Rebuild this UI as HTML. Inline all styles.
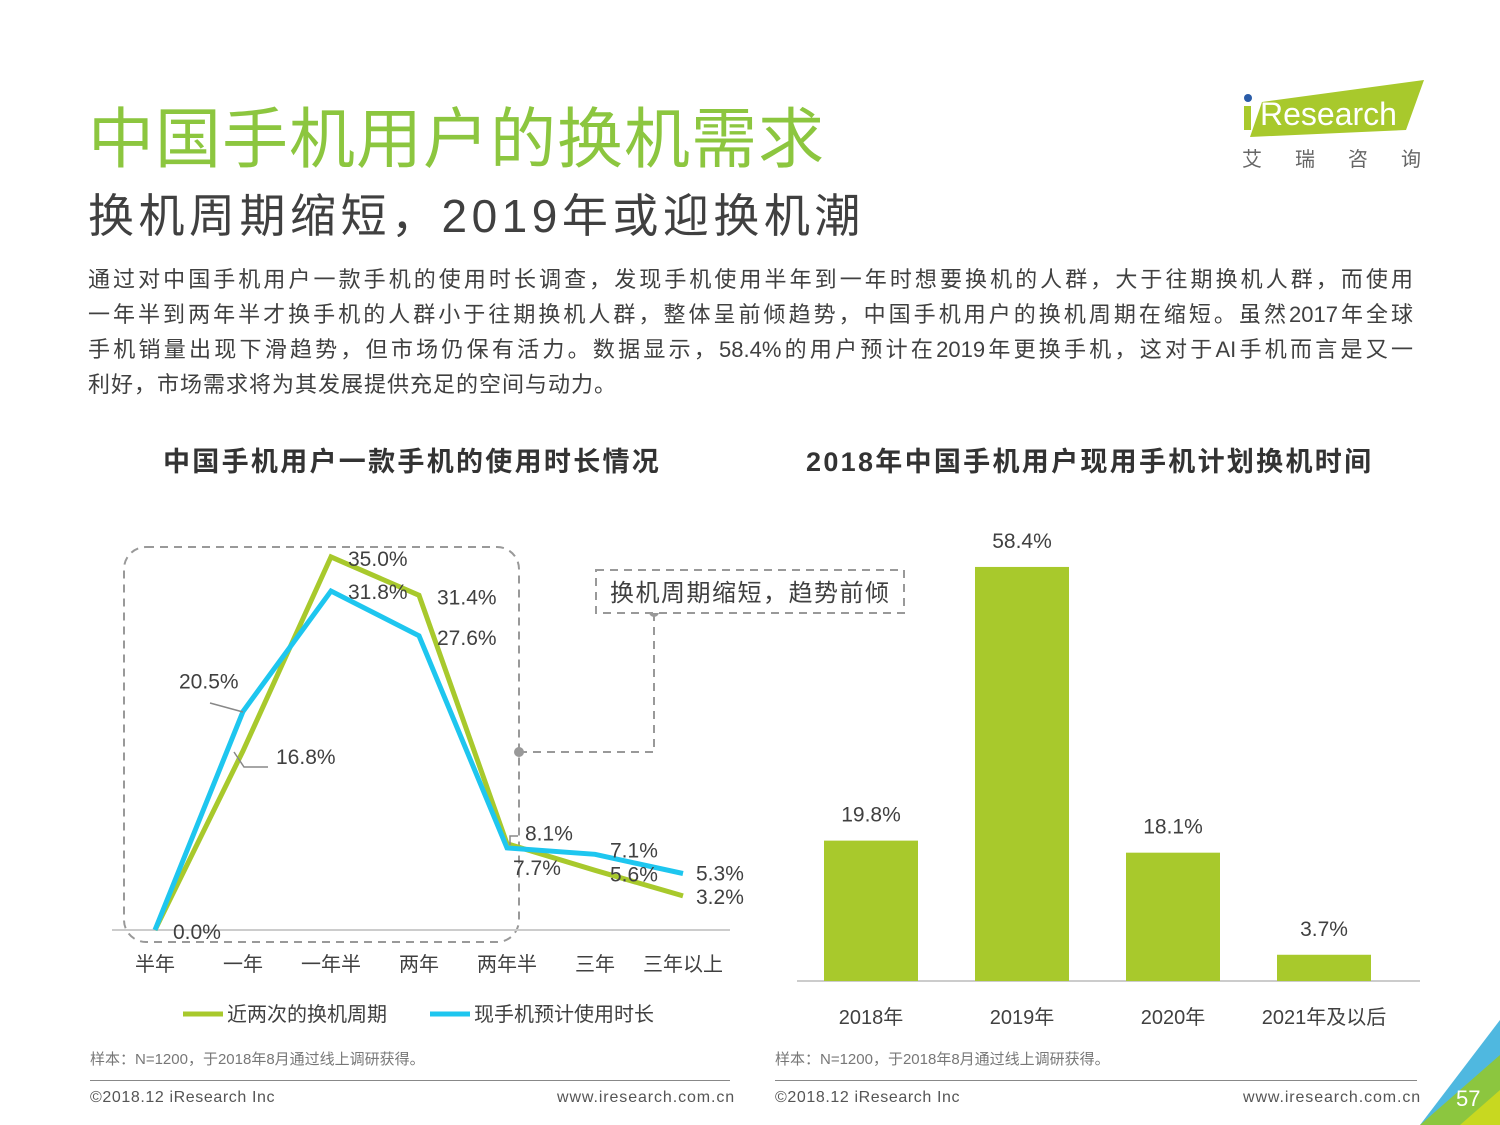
<!DOCTYPE html>
<html><head><meta charset="utf-8"><style>
body{margin:0;width:1500px;height:1125px;background:#fff;overflow:hidden;font-family:"Liberation Sans","Noto Sans CJK SC",sans-serif;position:relative}
.t{position:absolute;white-space:nowrap}
.pl{width:1325px;text-align:justify;text-align-last:justify;height:35px;white-space:nowrap}
</style></head><body>
<div class="t" style="left:88px;top:86px;font-size:66px;color:#8cc63f;letter-spacing:1px">中国手机用户的换机需求</div>
<div class="t" style="left:88px;top:180px;font-size:46px;color:#404040;letter-spacing:4.5px">换机周期缩短，2019年或迎换机潮</div>
<div class="t" style="left:88px;top:262px;font-size:22px;line-height:35px;color:#404040;">
<div class="pl">通过对中国手机用户一款手机的使用时长调查，发现手机使用半年到一年时想要换机的人群，大于往期换机人群，而使用</div>
<div class="pl">一年半到两年半才换手机的人群小于往期换机人群，整体呈前倾趋势，中国手机用户的换机周期在缩短。虽然2017年全球</div>
<div class="pl">手机销量出现下滑趋势，但市场仍保有活力。数据显示，58.4%的用户预计在2019年更换手机，这对于AI手机而言是又一</div>
<div style="letter-spacing:1px">利好，市场需求将为其发展提供充足的空间与动力。</div>
</div>
<div style="position:absolute;left:1240px;top:80px;width:190px;height:100px">
<svg width="190" height="100"><polygon points="22,22 184,0 166,50 10,57" fill="#a8c92c"/><circle cx="8" cy="18" r="4" fill="#2a5ca8"/><rect x="4" y="26" width="7" height="24" fill="#a8c92c"/><text x="20" y="45" font-size="32" fill="#fff" font-family="Liberation Sans">Research</text>
<text x="2" y="86" font-size="20" fill="#666" font-family="Noto Sans CJK SC" letter-spacing="33">艾瑞咨询</text></svg></div>
<div class="t" style="left:163px;top:440px;font-size:27px;font-weight:bold;color:#333;letter-spacing:2.3px">中国手机用户一款手机的使用时长情况</div>
<div class="t" style="left:806px;top:440px;font-size:27px;font-weight:bold;color:#333;letter-spacing:2.3px">2018年中国手机用户现用手机计划换机时间</div>
<svg id="lc" width="1500" height="1125" style="position:absolute;left:0;top:0" font-family="Liberation Sans, Noto Sans CJK SC, sans-serif"></svg>
<div class="t" style="left:90px;top:1048px;font-size:15px;color:#777">样本：N=1200，于2018年8月通过线上调研获得。</div>
<div class="t" style="left:775px;top:1048px;font-size:15px;color:#777">样本：N=1200，于2018年8月通过线上调研获得。</div>
<div style="position:absolute;left:90px;top:1080px;width:640px;border-top:1px solid #888"></div>
<div style="position:absolute;left:775px;top:1080px;width:642px;border-top:1px solid #888"></div>
<div class="t" style="left:90px;top:1089px;font-size:16px;color:#555;letter-spacing:0.6px">©2018.12 iResearch Inc</div>
<div class="t" style="left:557px;top:1089px;font-size:16px;color:#555;letter-spacing:0.9px">www.iresearch.com.cn</div>
<div class="t" style="left:775px;top:1089px;font-size:16px;color:#555;letter-spacing:0.6px">©2018.12 iResearch Inc</div>
<div class="t" style="left:1243px;top:1089px;font-size:16px;color:#555;letter-spacing:0.9px">www.iresearch.com.cn</div>
<svg width="100" height="115" style="position:absolute;left:1400px;top:1010px"><polygon points="100,10 100,60 45,115 20,115" fill="#4fb8e0"/><polygon points="100,45 100,115 20,115" fill="#8cc63f"/><polygon points="100,80 100,115 60,115" fill="#c8d820"/></svg>
<div class="t" style="left:1456px;top:1086px;font-size:22px;color:#fff">57</div>
<script>
const cats=["半年","一年","一年半","两年","两年半","三年","三年以上"];
const greenVals=[0,16.8,35.0,31.4,8.1,5.6,3.2];
const blueVals=[0,20.5,31.8,27.6,7.7,7.1,5.3];
const barCats=["2018年","2019年","2020年","2021年及以后"];
const barVals=[19.8,58.4,18.1,3.7];
const NS="http://www.w3.org/2000/svg";
const svg=document.getElementById('lc');
function mk(t,a,p){const e=document.createElementNS(NS,t);for(const k in a)e.setAttribute(k,a[k]);(p||svg).appendChild(e);return e;}
const lx=i=>155+i*88, ly=v=>930-v*10.66;
const by=v=>981-v*7.09, bx=i=>871+i*151;
let e=mk('rect',{x:124,y:547,width:395,height:395,rx:22,fill:'none',stroke:'#999','stroke-width':2,'stroke-dasharray':'8,6'});

mk('polyline',{points:'519,752 654,752 654,612',fill:'none',stroke:'#999','stroke-width':2,'stroke-dasharray':'8,6'});
mk('circle',{cx:519,cy:752,r:5,fill:'#999'});mk('circle',{cx:654,cy:612,r:5,fill:'#999'});
e=mk('rect',{x:596,y:570,width:308,height:43,fill:'#fff',stroke:'#999','stroke-width':2,'stroke-dasharray':'8,6'});

e=mk('text',{x:610,y:601,'font-size':24,fill:'#404040','letter-spacing':1.5});e.textContent='换机周期缩短，趋势前倾';
mk('line',{x1:112,y1:930,x2:730,y2:930,stroke:'#ccc','stroke-width':2});
cats.forEach((c,i)=>{const t=mk('text',{x:lx(i),y:971,'font-size':20,fill:'#404040','text-anchor':'middle'});t.textContent=c;
});
function series(vals,col,name){const p=mk('polyline',{points:vals.map((v,i)=>lx(i)+','+ly(v)).join(' '),fill:'none',stroke:col,'stroke-width':5,'stroke-linejoin':'miter'});
}
series(greenVals,'#a8c92c','series-recent-cycle');
series(blueVals,'#1ec6ef','series-current-phone');
mk('polyline',{points:'210,703 243,712',fill:'none',stroke:'#888','stroke-width':1.5});
mk('polyline',{points:'234,752 244,767 268,767',fill:'none',stroke:'#888','stroke-width':1.5});
mk('polyline',{points:'510,845 510,836 518,836',fill:'none',stroke:'#888','stroke-width':1.5});
const lab=(x,y,s)=>{const t=mk('text',{x:x,y:y,'font-size':21,fill:'#404040'});t.textContent=s;};
lab(lx(1)+33,ly(greenVals[1])+13,greenVals[1].toFixed(1)+'%');
lab(lx(2)+17,ly(greenVals[2])+9,greenVals[2].toFixed(1)+'%');
lab(lx(3)+18,ly(greenVals[3])+9,greenVals[3].toFixed(1)+'%');
lab(lx(4)+18,ly(greenVals[4])-3,greenVals[4].toFixed(1)+'%');
lab(lx(5)+15,ly(greenVals[5])+11,greenVals[5].toFixed(1)+'%');
lab(lx(6)+13,ly(greenVals[6])+8,greenVals[6].toFixed(1)+'%');
lab(lx(0)+18,ly(0)+9,blueVals[0].toFixed(1)+'%');
lab(lx(1)-64,ly(blueVals[1])-23,blueVals[1].toFixed(1)+'%');
lab(lx(2)+17,ly(blueVals[2])+8,blueVals[2].toFixed(1)+'%');
lab(lx(3)+18,ly(blueVals[3])+9,blueVals[3].toFixed(1)+'%');
lab(lx(4)+6,ly(blueVals[4])+27,blueVals[4].toFixed(1)+'%');
lab(lx(5)+15,ly(blueVals[5])+3,blueVals[5].toFixed(1)+'%');
lab(lx(6)+13,ly(blueVals[6])+7,blueVals[6].toFixed(1)+'%');
mk('line',{x1:183,y1:1014,x2:223,y2:1014,stroke:'#a8c92c','stroke-width':5});
e=mk('text',{x:227,y:1021,'font-size':20,fill:'#404040'});e.textContent='近两次的换机周期';
mk('line',{x1:430,y1:1014,x2:470,y2:1014,stroke:'#1ec6ef','stroke-width':5});
e=mk('text',{x:474,y:1021,'font-size':20,fill:'#404040'});e.textContent='现手机预计使用时长';
mk('line',{x1:797,y1:981,x2:1420,y2:981,stroke:'#ccc','stroke-width':2});
barVals.forEach((v,i)=>{const r=mk('rect',{x:bx(i)-47,y:by(v),width:94,height:981-by(v),fill:'#a8c92c'});

const t=mk('text',{x:bx(i),y:by(v)-19,'font-size':21,fill:'#404040','text-anchor':'middle'});t.textContent=v.toFixed(1)+'%';

const c=mk('text',{x:bx(i),y:1024,'font-size':20,fill:'#404040','text-anchor':'middle'});c.textContent=barCats[i];
});
</script>
</body></html>
